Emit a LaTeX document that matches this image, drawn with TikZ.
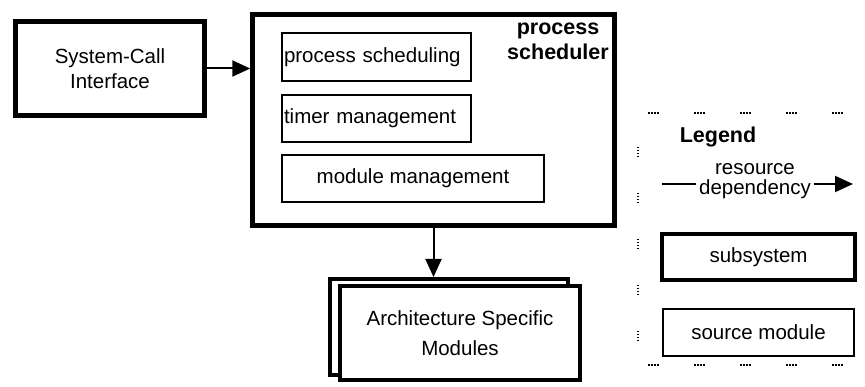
\documentclass[tikz,border=0pt]{standalone}
\usepackage{fontspec}
\setmainfont{Liberation Sans}
\usetikzlibrary{arrows.meta,positioning}

\tikzset{
  subsys/.style={draw, line width=4.5pt, inner sep=2pt, align=center},
  srcmod/.style={draw, line width=2pt, inner sep=2pt},
  dep/.style={line width=2pt, -{Triangle[length=18pt 0 0,width=16pt 0 0]}},
  legdots/.style={line width=1.2pt,
    dash pattern=on 1.5pt off 1.5pt on 1.5pt off 1.5pt on 1.5pt off 1.5pt on 1.5pt off 35.5pt},
}

\begin{document}
\begin{tikzpicture}[x=1pt,y=-1pt,font=\fontsize{20.5}{25}\selectfont]
      \useasboundingbox (0,0) rectangle (865,387);

      \node[subsys, minimum width=189pt, minimum height=94pt] (syscall) at (110,68.5) {System-Call\\Interface};

      \node[subsys, minimum width=362pt, minimum height=211pt] (sched) at (433.5,120) {};
      \node[font=\fontsize{21.5}{25}\selectfont\bfseries, align=center, inner sep=0pt] (schedlabel) at (558,41) {process\\scheduler};

      \node[srcmod, minimum width=189pt, minimum height=48pt, text width=185pt, align=left] (scheduling) at (376.5,57.5) {process scheduling};
      \node[srcmod, minimum width=189pt, minimum height=47pt, text width=185pt, align=left] (timer) at (376.5,118.5) {timer management};
      \node[srcmod, minimum width=262pt, minimum height=47pt] (modmgmt) at (413,178.5) {module management};

      % architecture modules, stacked twice
      \node[subsys, line width=4pt, minimum width=238pt, minimum height=96pt] (archback) at (449,327) {};
      \node[subsys, line width=4pt, fill=white, minimum width=240pt, minimum height=94pt,
            font=\fontsize{20.5}{30}\selectfont] (arch) at (460,333) {Architecture Specific\\Modules};

      \draw[dep] (syscall.east) -- (syscall.east -| sched.west);
      \draw[dep] (sched.south) -- (sched.south |- archback.north);

      % legend
      \draw[legdots] (648,113) -- (848,113);
      \draw[legdots] (648,365) -- (848,365);
      \draw[legdots] (638,147) -- (638,345);

      \node[font=\fontsize{21.5}{25}\selectfont\bfseries] (legend) at (718,137) {Legend};
      \node[align=center, inner xsep=3pt, font=\fontsize{20.5}{20}\selectfont] (deplabel) at (755,181) {resource\\dependency};
      \coordinate (depfrom) at (662,184);
      \coordinate (depto) at (853,184);
      \draw[line width=2pt] (depfrom) -- (depfrom -| deplabel.west);
      \draw[dep] (deplabel.east |- depto) -- (depto);

      \node[subsys, minimum width=193pt, minimum height=46pt] (legsub) at (758.5,257) {subsystem};
      \node[srcmod, minimum width=191pt, minimum height=47pt] (legmod) at (758.5,332.5) {source module};
\end{tikzpicture}
\end{document}
